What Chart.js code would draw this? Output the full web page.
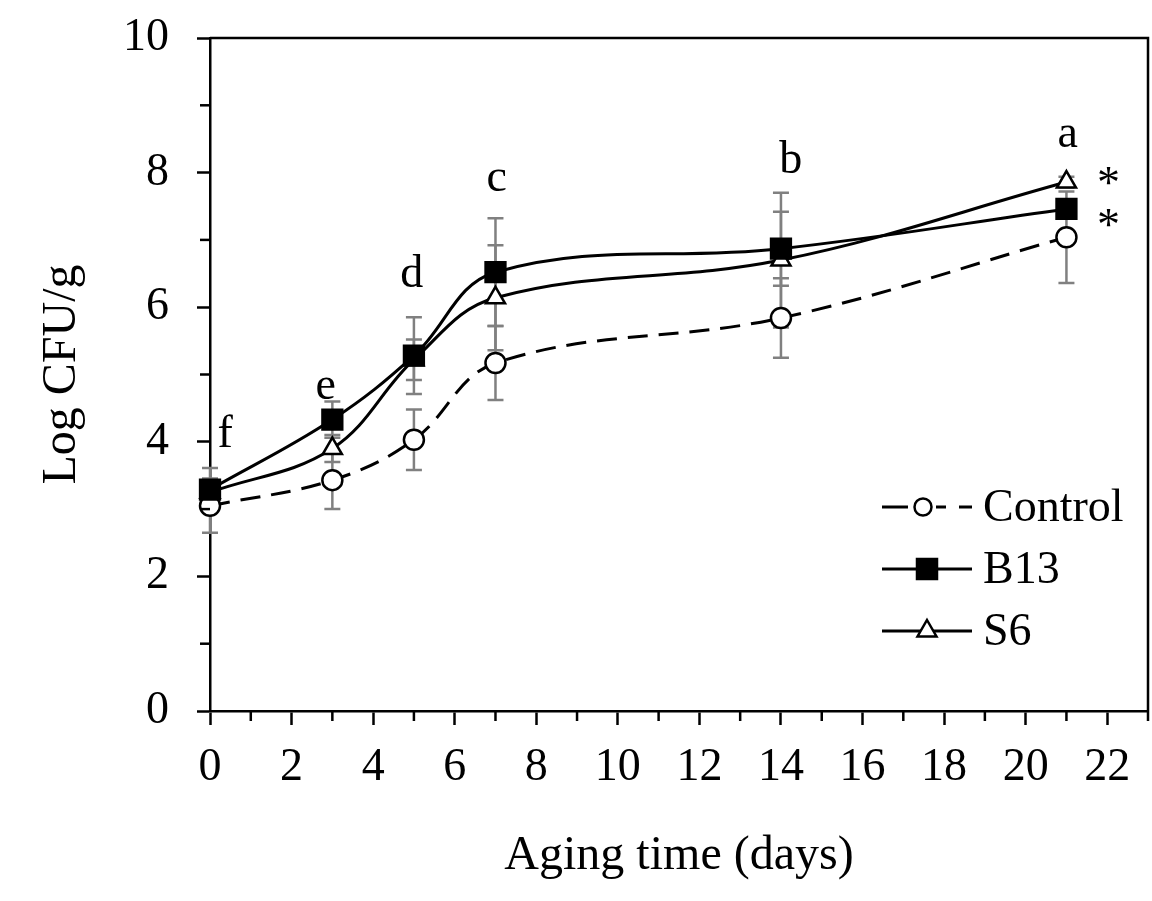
<!DOCTYPE html>
<html>
<head>
<meta charset="utf-8">
<script src="https://cdn.jsdelivr.net/npm/chart.js@4.4.0/dist/chart.umd.min.js"></script>
<style>
  html, body { margin: 0; padding: 0; background: #fff; }
</style>
</head>
<body>
<canvas id="myChart" width="1152" height="901"></canvas>
<script>
// sampling days
const days = [0, 3, 5, 7, 14, 21];

// mean log CFU/g and error bars
const controlMean = [3.05, 3.43, 4.03, 5.17, 5.84, 7.04];
const controlErr  = [0.40, 0.43, 0.45, 0.55, 0.59, 0.68];
const b13Mean = [3.29, 4.33, 5.28, 6.52, 6.87, 7.46];
const b13Err  = [0.32, 0.27, 0.57, 0.80, 0.55, 0.10];
const s6Mean  = [3.25, 3.90, 5.22, 6.14, 6.70, 7.86];
const s6Err   = [0.20, 0.20, 0.30, 0.78, 1.00, 0.08];

// significance letters (per day) and where they sit, in data units
const letters = ["f", "e", "d", "c", "b", "a"];
const letterX = [0.37, 2.84, 4.95, 7.03, 14.24, 21.03];
const letterY = [3.92, 4.64, 6.30, 7.73, 7.99, 8.38];
const starX = 22.03;
const starY = [7.62, 7.00];

const serif = "'Liberation Serif', 'Times New Roman', Times, serif";

function pts(vals) {
  return days.map((d, i) => ({ x: d, y: vals[i] }));
}

// big markers sit on the frame, don't let them push the plot area in
const LineCtrl = Chart.registry.getController("line");
if (LineCtrl) {
  LineCtrl.prototype.getMaxOverflow = function () { return 0; };
}

// error bars go under the lines
const errorBars = {
  id: "errorBars",
  beforeDatasetsDraw(chart) {
    const ctx = chart.ctx;
    const xs = chart.scales.x, ys = chart.scales.y;
    const sets = [
      [controlMean, controlErr],
      [s6Mean, s6Err],
      [b13Mean, b13Err]
    ];
    ctx.save();
    ctx.strokeStyle = "#808080";
    ctx.lineWidth = 2.5;
    sets.forEach(function (s) {
      s[0].forEach(function (m, i) {
        const px = xs.getPixelForValue(days[i]);
        const top = ys.getPixelForValue(m + s[1][i]);
        const bot = ys.getPixelForValue(m - s[1][i]);
        ctx.beginPath();
        ctx.moveTo(px, top); ctx.lineTo(px, bot);
        ctx.moveTo(px - 8, top); ctx.lineTo(px + 8, top);
        ctx.moveTo(px - 8, bot); ctx.lineTo(px + 8, bot);
        ctx.stroke();
      });
    });
    ctx.restore();
  }
};

function marker(ctx, kind, x, y) {
  ctx.beginPath();
  if (kind === "circle") {
    ctx.arc(x, y, 8.5, 0, Math.PI * 2);
    ctx.fillStyle = "#fff";
  } else if (kind === "rect") {
    ctx.rect(x - 10, y - 10, 20, 20);
    ctx.fillStyle = "#000";
  } else {
    ctx.moveTo(x, y - 11);
    ctx.lineTo(x + 9.5, y + 5.5);
    ctx.lineTo(x - 9.5, y + 5.5);
    ctx.closePath();
    ctx.fillStyle = "#fff";
  }
  ctx.fill();
  ctx.stroke();
}

// frame, minor ticks, letters, legend
const extras = {
  id: "extras",
  afterDraw(chart) {
    const ctx = chart.ctx;
    const a = chart.chartArea;
    const xs = chart.scales.x, ys = chart.scales.y;
    ctx.save();
    ctx.strokeStyle = "#000";
    ctx.lineWidth = 2.5;
    ctx.beginPath();
    ctx.moveTo(a.left, a.top); ctx.lineTo(a.right, a.top); ctx.lineTo(a.right, a.bottom);
    ctx.stroke();

    // minor ticks
    for (let v = 1; v <= 9; v += 2) {
      const py = ys.getPixelForValue(v);
      ctx.beginPath(); ctx.moveTo(a.left - 10, py); ctx.lineTo(a.left, py); ctx.stroke();
    }
    for (let v = 1; v <= 23; v += 2) {
      const px = xs.getPixelForValue(v);
      ctx.beginPath(); ctx.moveTo(px, a.bottom); ctx.lineTo(px, a.bottom + 10); ctx.stroke();
    }

    // letters
    ctx.fillStyle = "#000";
    ctx.font = "46px " + serif;
    ctx.textAlign = "center";
    ctx.textBaseline = "alphabetic";
    letters.forEach(function (t, i) {
      ctx.fillText(t, xs.getPixelForValue(letterX[i]), ys.getPixelForValue(letterY[i]));
    });
    starY.forEach(function (v) {
      ctx.fillText("*", xs.getPixelForValue(starX), ys.getPixelForValue(v));
    });

    // legend
    const rows = [
      { label: "Control", kind: "circle", y: 507 },
      { label: "B13", kind: "rect", y: 569 },
      { label: "S6", kind: "triangle", y: 631 }
    ];
    ctx.textAlign = "left";
    ctx.textBaseline = "middle";
    rows.forEach(function (r) {
      ctx.lineWidth = 3;
      ctx.beginPath();
      if (r.kind === "circle") {
        ctx.moveTo(882, r.y); ctx.lineTo(908, r.y);
        ctx.moveTo(936, r.y); ctx.lineTo(946, r.y);
        ctx.moveTo(959, r.y); ctx.lineTo(972, r.y);
      } else {
        ctx.moveTo(882, r.y); ctx.lineTo(972, r.y);
      }
      ctx.stroke();
      ctx.lineWidth = 2.5;
      marker(ctx, r.kind, r.kind === "circle" ? 923 : 927, r.y);
      ctx.fillStyle = "#000";
      ctx.fillText(r.label, 983, r.y + 2);
    });
    ctx.restore();
  }
};

const common = {
  borderColor: "#000",
  borderWidth: 3,
  pointBorderColor: "#000",
  pointBorderWidth: 2.5,
  tension: 0.38,
  clip: false
};

const config = {
  type: "line",
  data: {
    datasets: [
      Object.assign({}, common, {
        label: "B13", data: pts(b13Mean),
        pointStyle: "rect", pointRadius: 14, pointBackgroundColor: "#000"
      }),
      Object.assign({}, common, {
        label: "S6", data: pts(s6Mean),
        pointStyle: "triangle", pointRadius: 11, pointBackgroundColor: "#fff"
      }),
      Object.assign({}, common, {
        label: "Control", data: pts(controlMean), borderDash: [20, 11],
        pointStyle: "circle", pointRadius: 10, pointBackgroundColor: "#fff"
      })
    ]
  },
  options: {
    responsive: false,
    animation: false,
    layout: { padding: { top: 38, right: 4, left: 0, bottom: 0 } },
    plugins: { legend: { display: false }, tooltip: { enabled: false } },
    scales: {
      x: {
        type: "linear", min: 0, max: 23,
        afterFit: function (s) { s.height = 190; s.paddingLeft = 0; s.paddingRight = 0; },
        ticks: {
          stepSize: 1, autoSkip: false, maxRotation: 0, color: "#000", padding: 15,
          font: { family: serif, size: 46 },
          callback: function (v) { return v % 2 === 0 ? v : ""; }
        },
        grid: {
          drawOnChartArea: false, tickLength: 14, tickWidth: 2.5,
          tickColor: function (c) { return c.tick && c.tick.value % 2 === 0 ? "#000" : "rgba(0,0,0,0)"; }
        },
        border: { color: "#000", width: 2.5 },
        title: {
          display: true, text: "Aging time (days)", color: "#000",
          font: { family: serif, size: 48 }, padding: { top: 0, bottom: 16 }
        }
      },
      y: {
        min: 0, max: 10,
        afterFit: function (s) { s.width = 210; s.paddingTop = 0; s.paddingBottom = 0; },
        ticks: {
          stepSize: 1, autoSkip: false, color: "#000", padding: 28,
          font: { family: serif, size: 46 },
          callback: function (v) { return v % 2 === 0 ? v : ""; }
        },
        grid: {
          drawOnChartArea: false, tickLength: 13, tickWidth: 2.5,
          tickColor: function (c) { return c.tick && c.tick.value % 2 === 0 ? "#000" : "rgba(0,0,0,0)"; }
        },
        border: { color: "#000", width: 2.5 },
        title: {
          display: true, text: "Log CFU/g", color: "#000",
          font: { family: serif, size: 48 }, padding: { top: 34, bottom: 0 }
        }
      }
    }
  },
  plugins: [errorBars, extras]
};

new Chart(document.getElementById("myChart"), config);
</script>
</body>
</html>
